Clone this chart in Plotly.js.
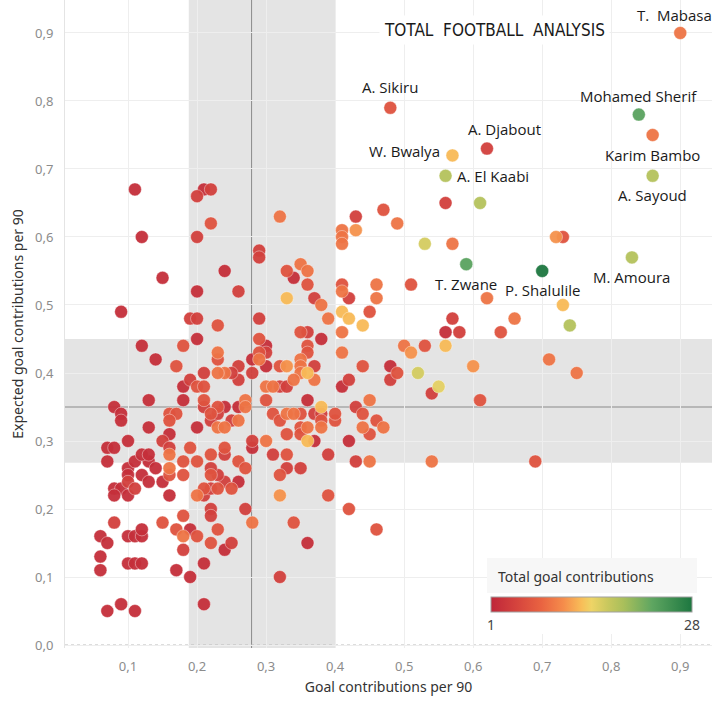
<!DOCTYPE html>
<html>
<head>
<meta charset="utf-8">
<script src="https://cdn.plot.ly/plotly-3.0.1.min.js"></script>
<style>html,body{margin:0;padding:0;background:#fff;}#chart{width:720px;height:713px;}</style>
</head>
<body>
<div id="chart"></div>
<script>
// ---- Data (x = goal contributions per 90, y = expected goal contributions per 90), grouped by total goal contributions ----
const tot2_x = [0.56,0.48,0.41,0.42,0.37,0.36,0.38,0.26,0.36,0.24,
  0.07,0.10,0.11,0.13,0.14,0.10,0.12,0.13,0.08,0.09,0.08,0.10,0.15,0.16,0.06,0.07,0.06,0.06,0.10,0.11,0.12,0.12,0.10,0.11,0.12,0.07,0.09,0.11,0.19,0.17,0.19,0.21,0.21,
  0.09,0.20,0.12,0.14,0.18,0.13,0.18,0.08,0.09,0.09,0.13,0.16,0.10,0.07,0.08,0.20,0.24,0.12,0.13,
  0.30,0.30,0.28,0.26,0.28,
  0.34,0.11,0.21,0.12,0.15,0.24,0.20];
const tot2_y = [0.46,0.41,0.38,0.30,0.30,0.36,0.45,0.24,0.15,0.14,
  0.27,0.26,0.27,0.27,0.26,0.25,0.25,0.24,0.23,0.23,0.22,0.22,0.24,0.22,0.16,0.15,0.13,0.11,0.16,0.16,0.16,0.17,0.12,0.12,0.12,0.05,0.06,0.05,0.17,0.11,0.10,0.12,0.06,
  0.49,0.45,0.44,0.42,0.38,0.36,0.36,0.35,0.34,0.33,0.32,0.31,0.30,0.29,0.29,0.32,0.35,0.28,0.28,
  0.44,0.41,0.42,0.35,0.29,
  0.54,0.67,0.67,0.60,0.54,0.55,0.52];

const tot4_x = [0.56,0.43,0.42,0.57,0.58,0.48,0.54,0.42,0.43,0.39,0.43,0.37,0.37,0.24,0.23,0.33,0.35,0.27,0.25,0.32,
  0.10,0.11,0.08,0.18,0.22,0.22,0.21,0.22,0.22,
  0.19,0.20,0.21,0.19,0.21,0.15,0.22,0.23,0.16,
  0.29,0.36,0.37,0.30,0.28,0.26,0.26,0.25,0.32,0.33,0.38,0.28,0.24,0.31,0.25,
  0.29,0.29,0.20,0.22,0.20,0.26];
const tot4_y = [0.65,0.63,0.51,0.48,0.46,0.39,0.37,0.39,0.35,0.28,0.27,0.34,0.41,0.24,0.25,0.26,0.26,0.20,0.15,0.10,
  0.24,0.23,0.18,0.14,0.20,0.19,0.22,0.23,0.26,
  0.48,0.48,0.40,0.39,0.35,0.30,0.33,0.34,0.29,
  0.48,0.46,0.51,0.43,0.40,0.41,0.39,0.40,0.38,0.38,0.34,0.30,0.28,0.28,0.33,
  0.58,0.57,0.66,0.67,0.60,0.52];

const tot6_x = [0.47,0.73,0.51,0.41,0.45,0.64,0.53,0.44,0.49,0.61,0.44,0.46,0.45,0.40,0.40,0.69,0.36,0.46,0.26,0.27,0.32,0.39,0.34,0.23,0.42,
  0.16,0.18,0.18,0.15,0.17,0.20,0.18,0.22,0.21,0.23,0.22,0.20,
  0.23,0.18,0.17,0.23,0.20,0.21,0.21,0.16,0.17,0.16,0.19,0.22,0.24,0.23,
  0.35,0.29,0.36,0.32,0.30,0.31,0.32,0.35,0.38,0.35,0.33,0.35,0.33,0.29,0.25,0.22,
  0.33,0.36,0.22];
const tot6_y = [0.64,0.60,0.53,0.53,0.49,0.46,0.44,0.41,0.40,0.36,0.34,0.33,0.31,0.33,0.34,0.27,0.44,0.17,0.27,0.26,0.25,0.22,0.18,0.17,0.20,
  0.25,0.25,0.27,0.18,0.17,0.16,0.19,0.15,0.23,0.23,0.25,0.27,
  0.47,0.44,0.41,0.42,0.38,0.38,0.36,0.34,0.34,0.33,0.29,0.28,0.29,0.35,
  0.46,0.45,0.43,0.41,0.36,0.34,0.33,0.34,0.33,0.32,0.31,0.31,0.28,0.43,0.23,0.34,
  0.55,0.53,0.62];

const tot9_x = [0.49,0.57,0.62,0.41,0.41,0.41,0.41,0.46,0.46,0.41,0.66,0.50,0.41,0.45,0.47,0.44,0.45,0.54,0.71,0.75,0.38,0.37,0.28,
  0.16,0.18,0.20,
  0.23,0.24,0.16,0.23,0.24,
  0.39,0.38,0.35,0.35,0.35,0.34,0.23,0.30,0.31,0.27,0.27,0.33,0.34,0.36,0.30,0.29,0.26,
  0.32,0.35,0.36];
const tot9_y = [0.62,0.59,0.51,0.61,0.60,0.59,0.52,0.53,0.51,0.46,0.48,0.44,0.43,0.36,0.32,0.32,0.27,0.27,0.42,0.40,0.32,0.39,0.18,
  0.26,0.16,0.22,
  0.43,0.40,0.28,0.32,0.32,
  0.48,0.50,0.42,0.41,0.40,0.39,0.40,0.38,0.38,0.36,0.35,0.34,0.34,0.32,0.30,0.42,0.33,
  0.63,0.56,0.55];

const tot11_x = [0.72,0.43,0.51,0.60,0.32,0.33];
const tot11_y = [0.60,0.61,0.43,0.41,0.22,0.41];

const tot13_x = [0.73,0.41,0.42,0.44,0.56,0.38,0.36,0.33,0.36];
const tot13_y = [0.50,0.49,0.48,0.47,0.44,0.35,0.40,0.51,0.30];

const tot15_x = [0.55];
const tot15_y = [0.38];

const tot16_x = [0.53,0.52];
const tot16_y = [0.59,0.40];

const tot18_x = [0.61,0.74];
const tot18_y = [0.65,0.47];

// Labelled players
const playerNames = ['T.  Mabasa','Mohamed Sherif','Karim Bambo','A. Sayoud','M. Amoura','P. Shalulile','T. Zwane','A. Sikiru','A. Djabout','W. Bwalya','A. El Kaabi'];
const playerX     = [0.90,0.84,0.86,0.86,0.83,0.70,0.59,0.48,0.62,0.57,0.56];
const playerY     = [0.90,0.78,0.75,0.69,0.57,0.55,0.56,0.79,0.73,0.72,0.69];
const playerTotal = [9,23,9,18,18,28,23,6,4,13,18];

const colorTicks = [1, 28];
const colorTitle = 'Total goal contributions';
const logoText = 'TOTAL  FOOTBALL  ANALYSIS';

// ---- Build trace ----
const groups = [
  [2, tot2_x, tot2_y],[4, tot4_x, tot4_y],[6, tot6_x, tot6_y],[9, tot9_x, tot9_y],
  [11, tot11_x, tot11_y],[13, tot13_x, tot13_y],[15, tot15_x, tot15_y],[16, tot16_x, tot16_y],[18, tot18_x, tot18_y]
];
let X=[], Y=[], C=[];
groups.forEach(g => { g[1].forEach((v,i)=>{ X.push(v); Y.push(g[2][i]); C.push(g[0]); }); });
playerX.forEach((v,i)=>{ X.push(v); Y.push(playerY[i]); C.push(playerTotal[i]); });
const order = C.map((c,i)=>i).sort((a,b)=>C[a]-C[b]);
const Xs = order.map(i=>X[i]), Ys = order.map(i=>Y[i]), Cs = order.map(i=>C[i]);

const colorscale = [
  [0,'#bf2639'],[0.12,'#d4423d'],[0.25,'#e96341'],[0.36,'#f58c4b'],[0.45,'#f8bd58'],
  [0.5,'#eed466'],[0.58,'#c9c85e'],[0.66,'#a9bf5b'],[0.8,'#5fa661'],[1,'#1d7740']
];

const trace = {
  type:'scatter', mode:'markers', x:Xs, y:Ys,
  marker:{
    size:13, color:Cs, cmin:1, cmax:28, colorscale:colorscale, opacity:0.95,
    line:{width:0.6,color:'rgba(255,255,255,0.7)'},
    colorbar:{
      orientation:'h', x:0.8138, xanchor:'center', y:(648-597)/648, yanchor:'top',
      len:201, lenmode:'pixels', thickness:15, thicknessmode:'pixels',
      outlinewidth:1, outlinecolor:'#a0a0a0', xpad:0, ypad:0,
      tickvals:colorTicks, ticktext:colorTicks.map(String), ticks:'',
      tickfont:{family:'Noto Sans', size:14, color:'#444'},
      title:{text:''},
      bgcolor:'rgba(0,0,0,0)'
    }
  },
  hoverinfo:'x+y', showlegend:false
};

const labelShift = [[-6,18],[0,19],[0,-20],[0,-19],[0,-20],[0,-19],[0,-20],[0,21],[18,20],[-48,4],[47,0]];
const annotations = playerNames.map((n,i)=>({
  x:playerX[i], y:playerY[i], xref:'x', yref:'y', text:n, showarrow:false,
  xanchor:'center', yanchor:'middle',
  xshift:labelShift[i][0], yshift:labelShift[i][1],
  font:{family:'Open Sans', size:15, color:'#1a1a1a'}
}));
annotations.push({
  xref:'paper', yref:'paper', x:(494-65)/647, y:(648-30)/648, xanchor:'center', yanchor:'middle',
  text:logoText, showarrow:false,
  font:{family:'DejaVu Sans Condensed, Liberation Sans Narrow, Liberation Sans, sans-serif', size:17, color:'#1a1a1a'}, bgcolor:'#ffffff', borderpad:4
});
annotations.push({
  xref:'paper', yref:'paper', x:(576-65)/647, y:(648-576)/648, xanchor:'center', yanchor:'middle',
  text:colorTitle, showarrow:false,
  font:{family:'Noto Sans', size:14, color:'#333'}
});

const axisFont = {family:'Noto Sans', size:13, color:'#8c8c8c'};
const layout = {
  width:720, height:713,
  margin:{l:65, r:8, t:0, b:65},
  paper_bgcolor:'#ffffff', plot_bgcolor:'#ffffff',
  separators:', ',
  font:{family:'Noto Sans'},
  xaxis:{
    range:[0.0087,0.946], tick0:0, dtick:0.1, tickformat:'.1f',
    showgrid:true, gridcolor:'#eeeeee', gridwidth:1, zeroline:false, showline:false,
    ticks:'outside', ticklen:6, tickcolor:'rgba(0,0,0,0)', tickfont:axisFont,
    title:{text:'Goal contributions per 90', font:{family:'Noto Sans', size:14, color:'#333'}, standoff:8}
  },
  yaxis:{
    range:[-0.0044,0.9485], tick0:0, dtick:0.1, tickformat:'.1f',
    showgrid:true, gridcolor:'#eeeeee', gridwidth:1, zeroline:false,
    showline:true, linecolor:'#e4e4e4', linewidth:1,
    ticks:'outside', ticklen:8, tickcolor:'rgba(0,0,0,0)', tickfont:axisFont,
    title:{text:'Expected goal contributions per 90', font:{family:'Noto Sans', size:14, color:'#333'}, standoff:8}
  },
  shapes:[
    {type:'rect', xref:'x', yref:'paper', x0:0.188, x1:0.40, y0:0, y1:1, fillcolor:'#e4e4e4', line:{width:0}, layer:'below'},
    {type:'rect', xref:'paper', yref:'y', x0:0, x1:1, y0:0.268, y1:0.45, fillcolor:'#e4e4e4', line:{width:0}, layer:'below'},
    {type:'line', xref:'x', yref:'paper', x0:0.279, x1:0.279, y0:0, y1:1, line:{color:'#8a8a8a', width:1}, layer:'between'},
    {type:'line', xref:'paper', yref:'y', x0:0, x1:1, y0:0.35, y1:0.35, line:{color:'#8a8a8a', width:1}, layer:'between'},
    {type:'line', xref:'paper', yref:'y', x0:0, x1:1, y0:0, y1:0, line:{color:'#bbbbbb', width:1, dash:'dot'}, layer:'between'},
    {type:'rect', xref:'paper', yref:'paper', x0:(487-65)/647, x1:(697-65)/647, y0:(648-634)/648, y1:(648-558)/648, fillcolor:'#ffffff', line:{width:0}, layer:'above'},
    {type:'rect', xref:'paper', yref:'paper', x0:(487-65)/647, x1:(697-65)/647, y0:(648-593)/648, y1:(648-558)/648, fillcolor:'#f7f7f7', line:{width:0}, layer:'above'}
  ],
  annotations:annotations
};

Plotly.newPlot('chart',[trace],layout,{displayModeBar:false, staticPlot:true});
</script>
</body>
</html>
